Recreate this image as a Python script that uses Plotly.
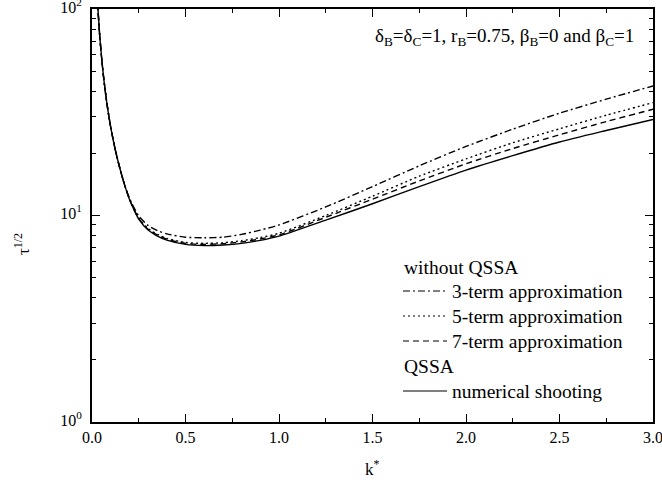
import plotly.graph_objects as go

k = [0.025, 0.03, 0.04, 0.05, 0.06, 0.08, 0.1, 0.125, 0.15, 0.175, 0.2, 0.225, 0.25, 0.3, 0.35,
     0.4, 0.5, 0.6, 0.7, 0.8, 0.9, 1.0, 1.25, 1.5, 1.75, 2.0, 2.25, 2.5, 2.75, 3.0]

head = [133, 107, 77, 60, 48.5, 34.7, 26.8, 20.7, 16.8, 14.0]

term3 = head + [12.15, 10.9, 9.95, 8.95, 8.45, 8.15, 7.85, 7.8, 7.85, 8.1, 8.5, 9.0, 11.0,
                13.8, 17.4, 21.6, 26.2, 31.3, 36.6, 42.4]
term5 = head + [12.05, 10.72, 9.7, 8.65, 8.1, 7.75, 7.4, 7.33, 7.38, 7.55, 7.82, 8.2, 10.0,
                12.4, 15.5, 18.8, 22.5, 26.3, 30.6, 35.2]
term7 = head + [12.0, 10.68, 9.65, 8.58, 8.03, 7.68, 7.32, 7.25, 7.3, 7.45, 7.7, 8.05, 9.8,
                12.0, 14.7, 17.8, 21.1, 24.6, 28.5, 32.7]
shooting = head + [12.0, 10.65, 9.6, 8.5, 7.95, 7.6, 7.25, 7.15, 7.2, 7.33, 7.58, 7.95, 9.5,
                   11.4, 13.8, 16.6, 19.5, 22.7, 25.8, 29.2]

x_ticks = [0.0, 0.5, 1.0, 1.5, 2.0, 2.5, 3.0]
x_ticklabels = ["0.0", "0.5", "1.0", "1.5", "2.0", "2.5", "3.0"]
y_ticks = [1, 10, 100]
y_ticklabels = ["10<sup>0</sup>", "10<sup>1</sup>", "10<sup>2</sup>"]

series = [
    ("3-term approximation", term3, "7px,3px,2px,3px"),
    ("5-term approximation", term5, "2px,3px"),
    ("7-term approximation", term7, "6px,4px"),
    ("numerical shooting", shooting, "solid"),
]

FONT = "Liberation Serif, Times New Roman, serif"
L, R, T, B = 92, 653, 9, 422
W, H = 662, 488

fig = go.Figure()
for name, vals, dash in series:
    fig.add_trace(go.Scatter(x=k, y=vals, mode="lines", name=name,
                             line=dict(color="black", width=1.4, dash=dash,
                                       shape="spline", smoothing=0.6),
                             showlegend=False))

def px2paper(px, py):
    return (px - L) / (R - L), (B - py) / (B - T)

annotations = []
shapes = []

# parameter text
ax, ay = px2paper(636, 37)
annotations.append(dict(xref="paper", yref="paper", x=ax, y=ay, xanchor="right", yanchor="middle",
                        text="δ<sub>B</sub>=δ<sub>C</sub>=1, r<sub>B</sub>=0.75, β<sub>B</sub>=0 and β<sub>C</sub>=1",
                        showarrow=False, font=dict(family=FONT, size=19, color="black")))

# legend headers
for txt, py in [("without QSSA", 267), ("QSSA", 366)]:
    ax, ay = px2paper(402, py)
    annotations.append(dict(xref="paper", yref="paper", x=ax, y=ay, xanchor="left", yanchor="middle",
                            text=txt, showarrow=False, font=dict(family=FONT, size=19.5, color="black")))

legend_rows = [(series[0], 291), (series[1], 316), (series[2], 341), (series[3], 391)]
for (name, vals, dash), py in legend_rows:
    x0, y0 = px2paper(403, py)
    x1, _ = px2paper(447, py)
    shapes.append(dict(type="line", xref="paper", yref="paper", x0=x0, x1=x1, y0=y0, y1=y0,
                       line=dict(color="black", width=1.2, dash=dash)))
    tx, ty = px2paper(450, py)
    annotations.append(dict(xref="paper", yref="paper", x=tx, y=ty, xanchor="left", yanchor="middle",
                            text=name, showarrow=False, font=dict(family=FONT, size=19.5, color="black")))

# y-axis title
annotations.append(dict(xref="paper", yref="paper", x=px2paper(22, 0)[0], y=px2paper(0, 244)[1],
                        xanchor="center", yanchor="middle", textangle=-90,
                        text="τ<sup>1/2</sup>", showarrow=False,
                        font=dict(family=FONT, size=17, color="black")))
# x-axis title
annotations.append(dict(xref="paper", yref="paper", x=px2paper(372, 0)[0], y=px2paper(0, 468)[1],
                        xanchor="center", yanchor="middle",
                        text="k<sup>*</sup>", showarrow=False,
                        font=dict(family=FONT, size=17, color="black")))

fig.update_layout(
    width=W, height=H,
    margin=dict(l=L, r=W - R, t=T, b=H - B, autoexpand=False),
    paper_bgcolor="white", plot_bgcolor="white",
    font=dict(family=FONT, color="black", size=16),
    annotations=annotations, shapes=shapes,
    showlegend=False,
)
fig.update_xaxes(range=[0, 3], tickmode="array", tickvals=x_ticks, ticktext=x_ticklabels,
                 automargin=False, ticklabeloverflow="allow",
                 ticks="inside", ticklen=8, tickwidth=1.3, tickcolor="black",
                 showline=True, linewidth=2, linecolor="black", mirror="ticks",
                 showgrid=False, zeroline=False, tickfont=dict(family=FONT, size=16),
                 minor=dict(tickvals=[0.25, 0.75, 1.25, 1.75, 2.25, 2.75], ticks="inside",
                            ticklen=4, tickwidth=1.3, tickcolor="black", showgrid=False))
fig.update_yaxes(type="log", range=[0, 2.0001], tickmode="array", tickvals=y_ticks, ticktext=y_ticklabels,
                 automargin=False, ticklabeloverflow="allow", ticklabelshift=-2, ticklabelstandoff=5,
                 ticks="inside", ticklen=8, tickwidth=1.3, tickcolor="black",
                 showline=True, linewidth=2, linecolor="black", mirror="ticks",
                 showgrid=False, zeroline=False, tickfont=dict(family=FONT, size=16),
                 minor=dict(tickvals=[2, 3, 4, 5, 6, 7, 8, 9, 20, 30, 40, 50, 60, 70, 80, 90],
                            ticks="inside", ticklen=4, tickwidth=1.3, tickcolor="black", showgrid=False))

fig.write_html("out.html", config={"displayModeBar": False},
               post_script="document.body.style.margin='0';document.body.style.padding='0';")
